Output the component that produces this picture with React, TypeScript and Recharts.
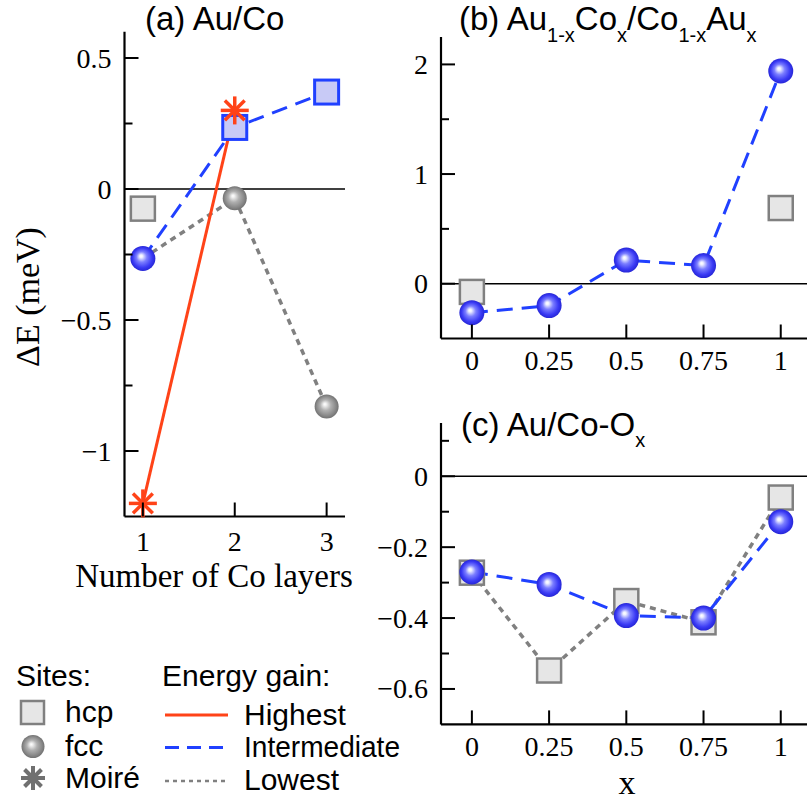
import React from "react";
import { LineChart, Line, XAxis, YAxis, ReferenceLine } from "recharts";

// ---------- data ----------
// (a) Au/Co : number of Co layers
const layersA = [1, 2, 3];
const highestLayersA = [1, 2];
const highestA = [-1.2, 0.3];
const intermediateA = [-0.265, 0.235, 0.37];
const lowestA = [-0.265, -0.035, -0.83];
const hcpLayersA = [1];
const hcpA = [-0.075];

// (b) Au1-xCox/Co1-xAux and (c) Au/Co-Ox : composition x
const fracX = [0, 0.25, 0.5, 0.75, 1];
const fccB = [-0.265, -0.2, 0.215, 0.165, 1.94];
const hcpFracB = [0, 1];
const hcpB = [-0.075, 0.69];
const fccC = [-0.27, -0.305, -0.393, -0.4, -0.128];
const hcpC = [-0.272, -0.548, -0.352, -0.412, -0.06];

// ticks
const ticksAx = [1, 2, 3];
const ticksAy = [0.5, 0.25, 0, -0.25, -0.5, -0.75, -1];
const majorAy = [0.5, 0, -0.5, -1];
const ticksBx = [0, 0.25, 0.5, 0.75, 1];
const ticksBy = [0, 0.5, 1, 1.5, 2];
const majorBy = [0, 1, 2];
const ticksCy = [0.1, 0, -0.1, -0.2, -0.3, -0.4, -0.5, -0.6];
const majorCy = [0, -0.2, -0.4, -0.6];

// ---------- helpers ----------
const pts = (xs: number[], ys: number[]) => xs.map((x, i) => ({ x, y: ys[i] }));

const SERIF = '"Liberation Serif", "Times New Roman", serif';
const SANS = '"Liberation Sans", Arial, Helvetica, sans-serif';

const RED = "#ff4318";
const BLUE = "#2040ff";
const GRAY = "#808080";

const serifStyle: React.CSSProperties = { fontFamily: SERIF, fontSize: 28 };

const fmt = (v: number) => (v < 0 ? "\u2212" + String(Math.abs(v)) : String(v));

const makeYTick = (majors: number[]) => (props: any) => {
  const { x, y, payload } = props;
  const v = payload.value;
  const major = majors.some((m) => Math.abs(m - v) < 1e-9);
  const len = major ? 14 : 8;
  return (
    <g>
      <line x1={x} y1={y} x2={x + len} y2={y} stroke="#000" strokeWidth={2} />
      {major && (
        <text x={x - 13} y={y + 9.5} textAnchor="end" style={serifStyle} fill="#000">
          {fmt(v)}
        </text>
      )}
    </g>
  );
};

const makeXTick = (gap: number) => (props: any) => {
  const { x, y, payload } = props;
  return (
    <g>
      <line x1={x} y1={y} x2={x} y2={y - 14} stroke="#000" strokeWidth={2} />
      <text x={x} y={y + gap} textAnchor="middle" style={serifStyle} fill="#000">
        {fmt(payload.value)}
      </text>
    </g>
  );
};

const sphere = (grad: string, r: number) => (p: any) =>
  p.cx == null || p.cy == null ? <g key={`s${p.index}`} /> : (
    <circle key={`s${p.index}`} cx={p.cx} cy={p.cy} r={r} fill={`url(#${grad})`} />
  );

const square = (fill: string, stroke: string, sw: number, s: number) => (p: any) =>
  p.cx == null || p.cy == null ? <g key={`q${p.index}`} /> : (
    <rect
      key={`q${p.index}`}
      x={p.cx - s / 2}
      y={p.cy - s / 2}
      width={s}
      height={s}
      fill={fill}
      stroke={stroke}
      strokeWidth={sw}
    />
  );

const Asterisk = ({ cx, cy, r, color, sw }: { cx: number; cy: number; r: number; color: string; sw: number }) => {
  const d = r * Math.SQRT1_2;
  return (
    <g stroke={color} strokeWidth={sw} strokeLinecap="butt">
      <line x1={cx} y1={cy - r} x2={cx} y2={cy + r} />
      <line x1={cx - r} y1={cy} x2={cx + r} y2={cy} />
      <line x1={cx - d} y1={cy - d} x2={cx + d} y2={cy + d} />
      <line x1={cx - d} y1={cy + d} x2={cx + d} y2={cy - d} />
    </g>
  );
};

const star = (p: any) =>
  p.cx == null || p.cy == null ? <g key={`a${p.index}`} /> : (
    <Asterisk key={`a${p.index}`} cx={p.cx} cy={p.cy} r={14} color={RED} sw={3.5} />
  );

const axisLine = { stroke: "#000", strokeWidth: 2.2 };
const W = 807;
const H = 801;

const abs: React.CSSProperties = { position: "absolute", left: 0, top: 0 };

export default function App() {
  const dataHighA = pts(highestLayersA, highestA);
  const dataInterA = pts(layersA, intermediateA);
  const dataLowA = pts(layersA, lowestA);
  const dataHcpA = pts(hcpLayersA, hcpA);

  const dataFccB = pts(fracX, fccB);
  const dataHcpB = pts(hcpFracB, hcpB);
  const dataFccC = pts(fracX, fccC);
  const dataHcpC = pts(fracX, hcpC);

  const common = { isAnimationActive: false, activeDot: false as const, legendType: "none" as const, type: "linear" as const, dataKey: "y" };
  const axisCommon = {
    type: "number" as const,
    interval: 0 as const,
    tickSize: 0,
    tickMargin: 0,
    tickLine: false,
    axisLine,
  };

  return (
    <div style={{ ...abs, width: W, height: H, background: "#fff" }}>
      {/* ---------- (a) ---------- */}
      <div style={abs}>
        <LineChart width={W} height={H} margin={{ top: 31.8, right: 462, bottom: 283.5, left: 123.5 }}>
          <XAxis {...axisCommon} dataKey="x" domain={[0.8, 3.2]} ticks={ticksAx} height={1} tick={makeXTick(34)} />
          <YAxis {...axisCommon} domain={[-1.25, 0.6]} ticks={ticksAy} width={1} tick={makeYTick(majorAy)} />
          <ReferenceLine y={0} stroke="#000" strokeWidth={1.5} />
          <Line {...common} data={dataLowA} stroke={GRAY} strokeWidth={3.5} strokeDasharray="6 5" dot={false} />
          <Line {...common} data={dataInterA} stroke={BLUE} strokeWidth={3} strokeDasharray="16 9" dot={false} />
          <Line {...common} data={dataHcpA} stroke="none" dot={square("#e6e6e6", GRAY, 2.5, 24)} />
          <Line {...common} data={dataLowA.slice(1)} stroke="none" dot={sphere("sphGray", 12)} />
          <Line {...common} data={dataInterA.slice(0, 1)} stroke="none" dot={sphere("sphBlue", 12.5)} />
          <Line {...common} data={dataInterA.slice(1)} stroke="none" dot={square("#c8caf6", BLUE, 3, 24)} />
          <Line {...common} data={dataHighA} stroke={RED} strokeWidth={3} dot={star} />
        </LineChart>
      </div>

      {/* ---------- (b) ---------- */}
      <div style={abs}>
        <LineChart width={W} height={H} margin={{ top: 37, right: 0, bottom: 461.5, left: 440 }}>
          <XAxis {...axisCommon} dataKey="x" domain={[-0.1, 1.085]} ticks={ticksBx} height={1} tick={makeXTick(31)} />
          <YAxis {...axisCommon} domain={[-0.5, 2.25]} ticks={ticksBy} width={1} tick={makeYTick(majorBy)} />
          <ReferenceLine y={0} stroke="#000" strokeWidth={1.5} />
          <Line {...common} data={dataFccB} stroke={BLUE} strokeWidth={3} strokeDasharray="16 9" dot={false} />
          <Line {...common} data={dataHcpB} stroke="none" dot={square("#e6e6e6", GRAY, 2.5, 24)} />
          <Line {...common} data={dataFccB} stroke="none" dot={sphere("sphBlue", 12.5)} />
        </LineChart>
      </div>

      {/* ---------- (c) ---------- */}
      <div style={abs}>
        <LineChart width={W} height={H} margin={{ top: 423.1, right: 0, bottom: 75.6, left: 440 }}>
          <XAxis {...axisCommon} dataKey="x" domain={[-0.1, 1.085]} ticks={ticksBx} height={1} tick={makeXTick(32)} />
          <YAxis {...axisCommon} domain={[-0.7, 0.15]} ticks={ticksCy} width={1} tick={makeYTick(majorCy)} />
          <ReferenceLine y={0} stroke="#000" strokeWidth={1.5} />
          <Line {...common} data={dataHcpC} stroke={GRAY} strokeWidth={3.5} strokeDasharray="6 5" dot={false} />
          <Line {...common} data={dataFccC} stroke={BLUE} strokeWidth={3} strokeDasharray="16 9" dot={false} />
          <Line {...common} data={dataHcpC} stroke="none" dot={square("#e6e6e6", GRAY, 2.5, 24)} />
          <Line {...common} data={dataFccC} stroke="none" dot={sphere("sphBlue", 12.5)} />
        </LineChart>
      </div>

      {/* ---------- texts, gradients and legend ---------- */}
      <svg width={W} height={H} style={{ ...abs, pointerEvents: "none" }}>
        <defs>
          <radialGradient id="sphBlue" cx="50%" cy="50%" r="50%" fx="42%" fy="40%">
            <stop offset="0" stopColor="#ffffff" />
            <stop offset="0.12" stopColor="#eef0ff" />
            <stop offset="0.42" stopColor="#7b7eff" />
            <stop offset="0.78" stopColor="#3a3af4" />
            <stop offset="1" stopColor="#2626d6" />
          </radialGradient>
          <radialGradient id="sphGray" cx="50%" cy="50%" r="50%" fx="42%" fy="40%">
            <stop offset="0" stopColor="#ffffff" />
            <stop offset="0.12" stopColor="#f0f0f0" />
            <stop offset="0.45" stopColor="#b0b0b0" />
            <stop offset="0.8" stopColor="#8a8a8a" />
            <stop offset="1" stopColor="#727272" />
          </radialGradient>
        </defs>

        {/* titles */}
        <text x={145} y={30} fontFamily={SANS} fontSize={33} fill="#000">(a) Au/Co</text>
        <text x={459} y={30} fontFamily={SANS} fontSize={33} fill="#000">
          (b) Au
          <tspan fontSize={20} dy={12}>1-x</tspan>
          <tspan dy={-12}>Co</tspan>
          <tspan fontSize={20} dy={12}>x</tspan>
          <tspan dy={-12}>/Co</tspan>
          <tspan fontSize={20} dy={12}>1-x</tspan>
          <tspan dy={-12}>Au</tspan>
          <tspan fontSize={20} dy={12}>x</tspan>
        </text>
        <text x={461} y={436} fontFamily={SANS} fontSize={33} fill="#000">
          (c) Au/Co-O
          <tspan fontSize={20} dy={11}>x</tspan>
        </text>

        {/* axis labels */}
        <text
          x={0}
          y={0}
          transform="translate(39 297) rotate(-90)"
          textAnchor="middle"
          fontFamily={SERIF}
          fontSize={34}
          fill="#000"
        >
          ΔE (meV)
        </text>
        <text x={214} y={587} textAnchor="middle" fontFamily={SERIF} fontSize={33} fill="#000">
          Number of Co layers
        </text>
        <text x={627} y={794} textAnchor="middle" fontFamily={SERIF} fontSize={34} fill="#000">
          x
        </text>

        {/* legend */}
        <g fontFamily={SANS} fontSize={30} fill="#000">
          <text x={16} y={686}>Sites:</text>
          <text x={162} y={686}>Energy gain:</text>
          <text x={65} y={722}>hcp</text>
          <text x={65} y={756}>fcc</text>
          <text x={65} y={788}>Moiré</text>
          <text x={244} y={725}>Highest</text>
          <text x={244} y={757} textLength={156} lengthAdjust="spacingAndGlyphs">Intermediate</text>
          <text x={244} y={790}>Lowest</text>
        </g>
        <rect x={21} y={701} width={23} height={23} fill="#e6e6e6" stroke={GRAY} strokeWidth={2.5} />
        <circle cx={33} cy={746.5} r={11.5} fill="url(#sphGray)" />
        <Asterisk cx={33} cy={778} r={12} color="#707070" sw={4} />
        <line x1={165} y1={715} x2={228} y2={715} stroke={RED} strokeWidth={3} />
        <line x1={165} y1={747.5} x2={228} y2={747.5} stroke={BLUE} strokeWidth={3} strokeDasharray="14 8" />
        <line x1={165} y1={781} x2={228} y2={781} stroke={GRAY} strokeWidth={2.5} strokeDasharray="4 4" />
      </svg>
    </div>
  );
}
